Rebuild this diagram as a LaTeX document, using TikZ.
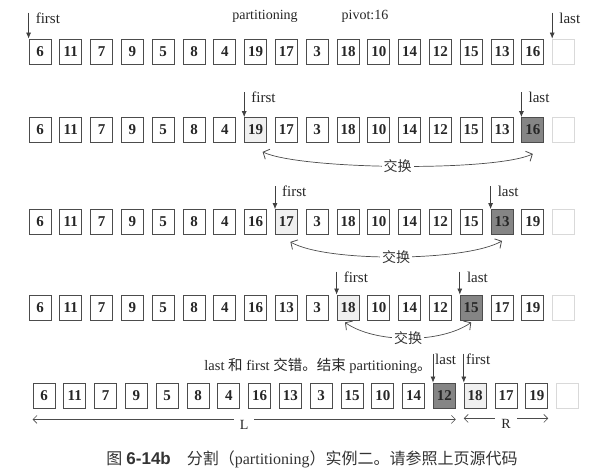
\documentclass[tikz,border=0pt]{standalone}
\usepackage{fontspec}
\setmainfont{Liberation Serif}
\newfontfamily\cjk{Noto Sans CJK SC}
\newfontfamily\capsans{Liberation Sans}
\usetikzlibrary{arrows.meta}
\usetikzlibrary{positioning}

\newcommand\zh[1]{{\cjk #1}}

\tikzset{
  cell/.style={draw=black!70, line width=0.8pt, minimum width=22pt, minimum height=25pt,
    inner sep=0pt, font=\fontsize{15}{15}\selectfont\bfseries, text=black!85},
  darkcell/.style={cell, fill=black!48},
  lightcell/.style={cell, fill=black!6},
  emptycell/.style={cell, draw=black!15},
  ptr/.style={-{Latex[length=6pt,width=5pt]}, line width=0.7pt, black!75},
  lbl/.style={font=\fontsize{15}{15}\selectfont, inner sep=0pt, text=black!85},
  swap/.style={{Straight Barb[length=5pt,width=11pt,line width=0.8pt]}-{Straight Barb[length=5pt,width=11pt,line width=0.8pt]},
    line width=0.7pt, black!70},
  swaplbl/.style={fill=white, inner sep=2pt, font=\fontsize{14}{14}\selectfont\cjk, text=black!80},
  dim/.style={{Straight Barb[length=4pt,width=8pt]}-{Straight Barb[length=4pt,width=8pt]},
    line width=0.6pt, black!70},
  dimlbl/.style={fill=white, anchor=north, yshift=2pt, inner xsep=6pt, inner ysep=3pt,
    font=\fontsize{14}{14}\selectfont, text=black!85},
}

% one row of cells: name, x of first centre, y, values, light index, dark index
\newcommand\cellrow[6]{%
  \foreach \v [count=\i from 0] in {#4} {
    \ifnum\i=#5 \tikzset{pick/.style=lightcell}%
    \else\ifnum\i=#6 \tikzset{pick/.style=darkcell}%
    \else \tikzset{pick/.style=cell}\fi\fi
    \node[pick] (#1c\i) at ({#2+30.8*\i},#3) {\v};
  }
  \node[emptycell] (#1c17) at ({#2+30.8*17},#3) {};
}

\begin{document}
\begin{tikzpicture}[x=1pt,y=1pt]
\useasboundingbox (0,0) rectangle (615,-472);

% rows
\cellrow{r1}{40}{-51.5}{6,11,7,9,5,8,4,19,17,3,18,10,14,12,15,13,16}{-1}{-1}
\cellrow{r2}{40}{-130}{6,11,7,9,5,8,4,19,17,3,18,10,14,12,15,13,16}{7}{16}
\cellrow{r3}{40}{-222}{6,11,7,9,5,8,4,16,17,3,18,10,14,12,15,13,19}{8}{15}
\cellrow{r4}{40}{-307.5}{6,11,7,9,5,8,4,16,13,3,18,10,14,12,15,17,19}{10}{14}
\cellrow{r5}{44}{-395.5}{6,11,7,9,5,8,4,16,13,3,15,10,14,12,18,17,19}{14}{13}

% row 1
\node[lbl, font=\fontsize{14}{14}\selectfont] (part) at (265,-16.5) {partitioning};
\node[lbl, font=\fontsize{14}{14}\selectfont] (piv) at (365,-16.5) {pivot:16};
\coordinate (p1f) at ([yshift=26pt]r1c0.north west);
\draw[ptr] (p1f) -- (r1c0.north west);
\node[lbl, anchor=north west, xshift=7pt] (p1fl) at (p1f) {first};
\coordinate (p1l) at ([yshift=26pt]r1c17.north west);
\draw[ptr] (p1l) -- (r1c17.north west);
\node[lbl, anchor=north west, xshift=7pt] (p1ll) at (p1l) {last};

% row 2
\coordinate (p2f) at ([yshift=25pt]r2c7.north west);
\draw[ptr] (p2f) -- (r2c7.north west);
\node[lbl, anchor=north west, xshift=7pt] (p2fl) at (p2f) {first};
\coordinate (p2l) at ([yshift=25pt]r2c16.north west);
\draw[ptr] (p2l) -- (r2c16.north west);
\node[lbl, anchor=north west, xshift=7pt] (p2ll) at (p2l) {last};
\draw[swap] ([xshift=7pt,yshift=-9pt]r2c7.south) to[out=-25,in=-155,looseness=0.4]
  node[swaplbl] (x2) {交换} ([yshift=-11pt]r2c16.south);

% row 3
\coordinate (p3f) at ([yshift=23pt]r3c8.north west);
\draw[ptr] (p3f) -- (r3c8.north west);
\node[lbl, anchor=north west, xshift=7pt] (p3fl) at (p3f) {first};
\coordinate (p3l) at ([yshift=23pt]r3c15.north west);
\draw[ptr] (p3l) -- (r3c15.north west);
\node[lbl, anchor=north west, xshift=7pt] (p3ll) at (p3l) {last};
\draw[swap] ([xshift=4pt,yshift=-7pt]r3c8.south) to[out=-30,in=-150,looseness=0.5]
  node[swaplbl] (x3) {交换} ([yshift=-6pt]r3c15.south);

% row 4
\coordinate (p4f) at ([yshift=23pt]r4c10.north west);
\draw[ptr] (p4f) -- (r4c10.north west);
\node[lbl, anchor=north west, xshift=7pt] (p4fl) at (p4f) {first};
\coordinate (p4l) at ([yshift=23pt]r4c14.north west);
\draw[ptr] (p4l) -- (r4c14.north west);
\node[lbl, anchor=north west, xshift=7pt] (p4ll) at (p4l) {last};
\draw[swap] ([xshift=-3pt,yshift=-2pt]r4c10.south) to[out=-35,in=-145,looseness=0.75]
  node[swaplbl] (x4) {交换} ([yshift=-2pt]r4c14.south);

% row 5
\node[lbl, anchor=base, font=\fontsize{14.5}{14.5}\selectfont] (msg) at (318,-370)
  {last \zh{和} first \zh{交错。结束} partitioning\zh{。}};
\coordinate (p5l) at ([yshift=29pt]r5c13.north west);
\draw[ptr] (p5l) -- (r5c13.north west);
\node[lbl, anchor=north west, xshift=2pt] (p5ll) at (p5l) {last};
\coordinate (p5f) at ([yshift=29pt]r5c14.north west);
\draw[ptr] (p5f) -- (r5c14.north west);
\node[lbl, anchor=north west, xshift=2pt] (p5fl) at (p5f) {first};
\draw[dim] ([yshift=-11pt]r5c0.south west) -- node[dimlbl] (L) {L} ([yshift=-11pt]r5c13.south east);
\draw[dim] ([yshift=-10pt]r5c14.south west) -- node[dimlbl] (R) {R} ([yshift=-10pt]r5c16.south east);

% caption
\node[inner sep=0pt, text=black!80, font=\fontsize{16}{16}\selectfont] (cap) at (312,-459.5)
  {\zh{图} {\capsans\bfseries\fontsize{17}{17}\selectfont 6-14b}\quad \zh{分割（}partitioning\zh{）实例二。请参照上页源代码}};
\end{tikzpicture}
\end{document}
